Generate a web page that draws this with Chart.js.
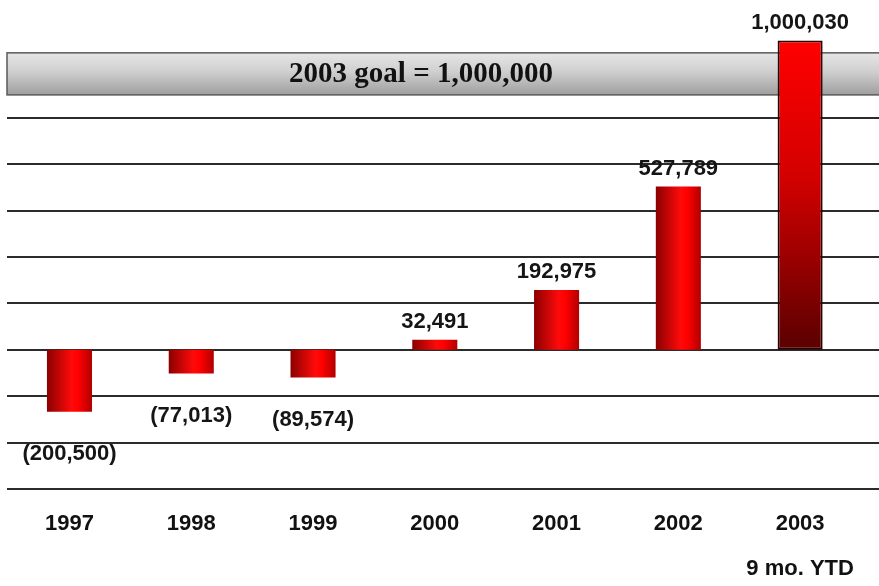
<!DOCTYPE html>
<html>
<head>
<meta charset="utf-8">
<script src="https://cdn.jsdelivr.net/npm/chart.js@4"></script>
<style>
    html, body { margin: 0; padding: 0; background: #ffffff; }
    #wrap { width: 879px; height: 586px; }
</style>
</head>
<body>
<div id="wrap"><canvas id="goalChart" width="879" height="586"></canvas></div>
<script>

// ================= DATA =================

const YEARS = ["1997", "1998", "1999", "2000", "2001", "2002", "2003"];
const YEAR_NOTES = ["", "", "", "", "", "", "9 mo. YTD"];
const VALUES = [-200500, -77013, -89574, 32491, 192975, 527789, 1000030];
const GOAL_TEXT = "2003 goal = 1,000,000";

// ================= SETTINGS =================

const Y_MIN = -450000;
const Y_MAX = 1050000;
const Y_STEP = 150000;
const GRID_TOP = 750000;
const BAND_TOP = 960000;
const BAND_BOTTOM = 824000;
const BAR_PCT = 0.37;
const SANS = "'Liberation Sans', Arial, sans-serif";
const SERIF = "'Liberation Serif', 'Times New Roman', serif";

function formatValue(v) {
    const s = Math.abs(v).toLocaleString("en-US");
    return v < 0 ? "(" + s + ")" : s;
}

function barFill(ctx) {

    const chart = ctx.chart;
    const x = chart.scales.x;
    const y = chart.scales.y;

    if (!chart.chartArea || !x || !y || ctx.type !== "data") return "#e00000";

    const c = chart.ctx;
    const i = ctx.dataIndex;

    if (i === VALUES.length - 1) {
        const g = c.createLinearGradient(0, y.getPixelForValue(VALUES[i]), 0, y.getPixelForValue(0));
        g.addColorStop(0, "#ff0000");
        g.addColorStop(0.45, "#d20000");
        g.addColorStop(1, "#5a0000");
        return g;
    }

    const cx = x.getPixelForValue(i);
    const half = x.width / YEARS.length * BAR_PCT / 2;
    const g = c.createLinearGradient(cx - half, 0, cx + half, 0);
    g.addColorStop(0, "#8a0000");
    g.addColorStop(0.55, "#ff0a0a");
    g.addColorStop(0.7, "#ff0000");
    g.addColorStop(1, "#b00000");
    return g;

}

// ================= PLUGINS =================

const backdrop = {
    id: "backdrop",
    beforeDatasetsDraw(chart) {

        const c = chart.ctx;
        const y = chart.scales.y;
        const left = 7;
        const right = chart.width;

        c.save();

        // horizontal rules
        c.strokeStyle = "#2b2b2b";
        c.lineWidth = 2;
        for (let v = Y_MIN; v <= GRID_TOP; v += Y_STEP) {
            const py = Math.round(y.getPixelForValue(v));
            c.beginPath();
            c.moveTo(left, py);
            c.lineTo(right, py);
            c.stroke();
        }

        // goal band
        const top = y.getPixelForValue(BAND_TOP);
        const bottom = y.getPixelForValue(BAND_BOTTOM);
        const g = c.createLinearGradient(0, top, 0, bottom);
        g.addColorStop(0, "#e6e6e6");
        g.addColorStop(0.45, "#cfcfcf");
        g.addColorStop(1, "#9e9e9e");
        c.fillStyle = g;
        c.fillRect(left, top, right - left, bottom - top);
        c.strokeStyle = "#5a5a5a";
        c.lineWidth = 1.5;
        c.strokeRect(left, top, right - left + 2, bottom - top);

        c.fillStyle = "#111111";
        c.font = "bold 29px " + SERIF;
        c.textAlign = "center";
        c.textBaseline = "middle";
        c.fillText(GOAL_TEXT, 421, (top + bottom) / 2 + 1);

        c.restore();

    }
};

const valueLabels = {
    id: "valueLabels",
    afterDatasetsDraw(chart) {

        const c = chart.ctx;
        const meta = chart.getDatasetMeta(0);

        c.save();
        c.font = "bold 22px " + SANS;
        c.fillStyle = "#151515";
        c.textAlign = "center";
        c.textBaseline = "middle";

        meta.data.forEach((bar, i) => {
            const v = VALUES[i];
            const py = v >= 0 ? bar.y - 18 : bar.y + 42;
            c.fillText(formatValue(v), bar.x, py);
        });

        c.restore();

    }
};

// ================= CHART =================

new Chart(
    document.getElementById("goalChart"),
    {
        type: "bar",
        data: {
            labels: YEARS.map((yr, i) => YEAR_NOTES[i] ? [yr, YEAR_NOTES[i]] : yr),
            datasets: [{
                data: VALUES,
                backgroundColor: barFill,
                borderColor: "#2a0000",
                borderWidth: VALUES.map((v, i) => i === VALUES.length - 1 ? 2 : 0),
                borderSkipped: false,
                barPercentage: BAR_PCT,
                categoryPercentage: 1
            }]
        },
        options: {
            responsive: false,
            animation: false,
            layout: {
                padding: { top: 25, left: 8.6, right: 18, bottom: 0 }
            },
            plugins: {
                legend: { display: false },
                tooltip: { enabled: false }
            },
            scales: {
                x: {
                    grid: { display: false },
                    border: { display: false },
                    afterFit(scale) { scale.height = 97; },
                    ticks: {
                        autoSkip: false,
                        maxRotation: 0,
                        padding: 4.5,
                        color: "#111111",
                        font: { family: SANS, weight: "bold", size: 22, lineHeight: 2.05 }
                    }
                },
                y: {
                    display: false,
                    min: Y_MIN,
                    max: Y_MAX,
                    ticks: { stepSize: Y_STEP }
                }
            }
        },
        plugins: [backdrop, valueLabels]
    }
);

</script>
</body>
</html>
